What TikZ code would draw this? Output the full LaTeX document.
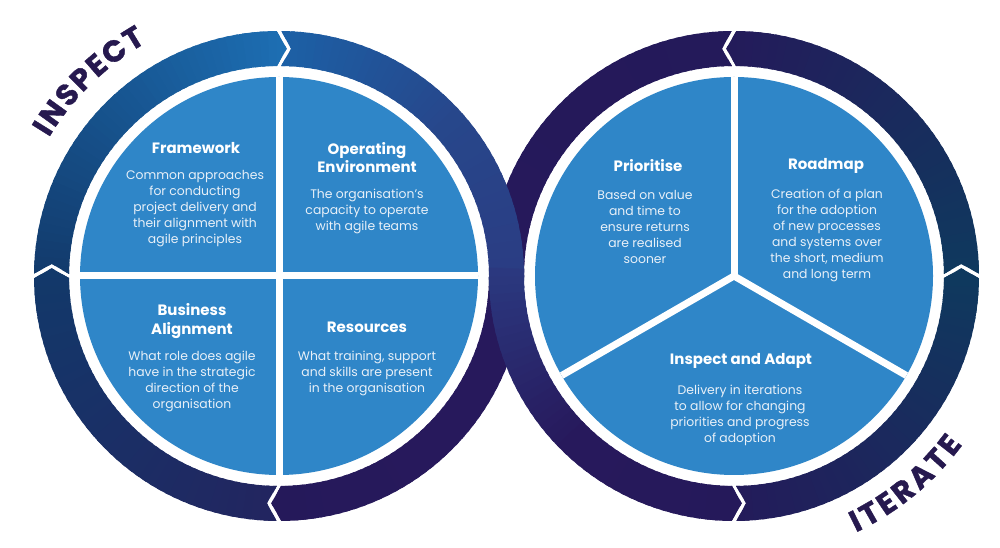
\documentclass[tikz,border=0pt]{standalone}
\usepackage{fontspec}
\setmainfont{Poppins}
\newfontfamily\wordfam[BoldFeatures={FakeBold=1.3}]{Poppins}
\usetikzlibrary{calc}
\definecolor{discblue}{HTML}{2F86C8}
\definecolor{bodytxt}{HTML}{E8F0F8}
\definecolor{wordcol}{HTML}{26194F}
\definecolor{lA}{HTML}{12396A}
\definecolor{lB}{HTML}{17548F}
\definecolor{lC}{HTML}{1D6FB4}
\definecolor{lD}{HTML}{1B62A8}
\definecolor{lE}{HTML}{27478B}
\definecolor{cross}{HTML}{2B3B82}
\definecolor{purA}{HTML}{27195C}
\definecolor{purB}{HTML}{25195A}
\definecolor{lF}{HTML}{23245F}
\definecolor{lG}{HTML}{1A2F66}
\definecolor{rA}{HTML}{0E3A5E}
\definecolor{rB}{HTML}{1A2A5D}
\definecolor{rC}{HTML}{241A5A}
\def\Ro{245}
\def\Ri{210}
\def\Rm{227.5}
\newcommand\wordfont{\wordfam\bfseries\fontsize{30}{30}\selectfont}
\newcommand\measureletters{%
  \foreach \ch in {I,N,S,P,E,C,T,R,A}{%
    \setbox0=\hbox{\normalfont\wordfont \ch}%
    \expandafter\xdef\csname lw\ch\endcsname{\the\wd0}%
  }}
\AtBeginDocument{\measureletters}
\newcommand{\ringseg}[8]{%
\begin{scope}
\clip ($(#1)+(#2:\Ro)$) arc[start angle=#2, end angle=#3, radius=\Ro]
  -- ($(#1)+({#3+(#5)}:\Rm)$) -- ($(#1)+(#3:\Ri)$)
  arc[start angle=#3, end angle=#2, radius=\Ri]
  -- ($(#1)+({#2+(#4)}:\Rm)$) -- cycle;
\pgfmathsetmacro\sgn{(#3>#2)*2-1}
\pgfmathsetmacro\Sa{#2-4*\sgn}
\pgfmathsetmacro\Ea{#3+4*\sgn}
\foreach \k in {0,...,47}{
  \pgfmathsetmacro\aa{\Sa+(\Ea-\Sa)*\k/48}
  \pgfmathsetmacro\bb{\Sa+(\Ea-\Sa)*(\k+1.5)/48}
  \ifnum\k<24
    \pgfmathtruncatemacro\pp{100*\k/24}
    \fill[#7!\pp!#6] (#1) -- ($(#1)+(\aa:262)$) -- ($(#1)+(\bb:262)$) -- cycle;
  \else
    \pgfmathtruncatemacro\pp{100*(\k-24)/23}
    \fill[#8!\pp!#7] (#1) -- ($(#1)+(\aa:262)$) -- ($(#1)+(\bb:262)$) -- cycle;
  \fi
}
\end{scope}}
% #1 centre, #2 baseline radius, #3 middle angle, #4 direction (+1 ccw, -1 cw), #5 tracking, #6 name prefix, #7 letters
\newcommand{\arcword}[7]{%
  \gdef\totw{0}%
  \foreach \ch in {#7}{%
    \pgfmathsetmacro\tmpt{\totw+\csname lw\ch\endcsname+#5}%
    \xdef\totw{\tmpt}%
  }%
  \pgfmathsetmacro\totw{\totw-#5}%
  \gdef\cum{0}%
  \foreach \ch [count=\ci] in {#7}{%
    \edef\lwc{\csname lw\ch\endcsname}%
    \pgfmathsetmacro\ang{#3+#4*(\cum+\lwc/2-\totw/2)/#2*180/pi}%
    \pgfmathsetmacro\rot{\ang+90*#4}%
    \node[wordletter, rotate=\rot] (#6\ci) at ($(#1)+(\ang:#2)$) {\ch};%
    \pgfmathsetmacro\tmpt{\cum+\lwc+#5}%
    \xdef\cum{\tmpt}%
  }%
}
\tikzset{
  ttl/.style={text=white, font=\bfseries\fontsize{15}{18.5}\selectfont, align=center, inner sep=0pt},
  bdy/.style={text=bodytxt, font=\fontsize{12.4}{16}\selectfont, align=center, inner sep=0pt},
  divider/.style={white, line width=7pt},
  disc/.style={fill=discblue},
  wordletter/.style={anchor=base, inner sep=0pt, text=wordcol, font=\wordfont}
}
\begin{document}
\begin{tikzpicture}[x=1pt,y=1pt]
\useasboundingbox (0,0) rectangle (1000,548);
\fill[white] (0,0) rectangle (1000,548);
\coordinate (L) at (279,272);
\coordinate (R) at (734,272);
% under band
\ringseg{L}{0}{-89.45}{0}{-2.5}{purA}{purA}{purB}
\ringseg{R}{90.55}{180}{2.5}{0}{rC}{purB}{purA}
% other segments
\ringseg{L}{179.45}{90.55}{-2.5}{-2.5}{lA}{lB}{lC}
\ringseg{L}{-90.55}{-179.45}{-2.5}{-2.5}{lF}{lG}{lA}
\ringseg{R}{0.55}{89.45}{2.5}{2.5}{rA}{rB}{rC}
\ringseg{R}{270.55}{359.45}{2.5}{2.5}{rC}{rB}{rA}
% over band
\ringseg{L}{89.45}{-2}{-2.5}{0}{lD}{lE}{cross}
\ringseg{R}{178}{269.45}{0}{2.5}{cross}{purA}{purB}
% discs
\fill[disc] (L) circle[radius=199];
\fill[disc] (R) circle[radius=199];
\draw[divider] ($(L)+(0,199)$) -- ($(L)+(0,-199)$);
\draw[divider] ($(L)+(-199,0)$) -- ($(L)+(199,0)$);
\draw[divider] (R) -- ($(R)+(90:199)$);
\draw[divider] (R) -- ($(R)+(210:199)$);
\draw[divider] (R) -- ($(R)+(330:199)$);
\fill[white] (R) circle[radius=3.5];
% arc words
\arcword{L}{268.5}{134.3}{-1}{2}{insp}{I,N,S,P,E,C,T}
\arcword{R}{284}{-50.5}{1}{3.5}{iter}{I,T,E,R,A,T,E}
% texts
\node[ttl] (fwT) at (196,400) {Framework};
\node[bdy] (fwB) at (195,339) {Common approaches\\for conducting\\project delivery and\\their alignment with\\agile principles};
\node[ttl] (opT) at (367,390.5) {Operating\\Environment};
\node[bdy] (opB) at (367,337) {The organisation's\\capacity to operate\\with agile teams};
\node[ttl] (baT) at (192,227) {Business\\Alignment};
\node[bdy] (baB) at (192,167) {What role does agile\\have in the strategic\\direction of the\\organisation};
\node[ttl] (reT) at (367,221) {Resources};
\node[bdy] (reB) at (367,175) {What training, support\\and skills are present\\in the organisation};
\node[ttl] (prT) at (648,382) {Prioritise};
\node[bdy] (prB) at (645,321) {Based on value\\and time to\\ensure returns\\are realised\\sooner};
\node[ttl] (rmT) at (826,382) {Roadmap};
\node[bdy] (rmB) at (827,313) {Creation of a plan\\for the adoption\\of new processes\\and systems over\\the short, medium\\and long term};
\node[ttl] (iaT) at (741,187) {Inspect and Adapt};
\node[bdy] (iaB) at (740,133) {Delivery in iterations\\to allow for changing\\priorities and progress\\of adoption};
\end{tikzpicture}
\end{document}
